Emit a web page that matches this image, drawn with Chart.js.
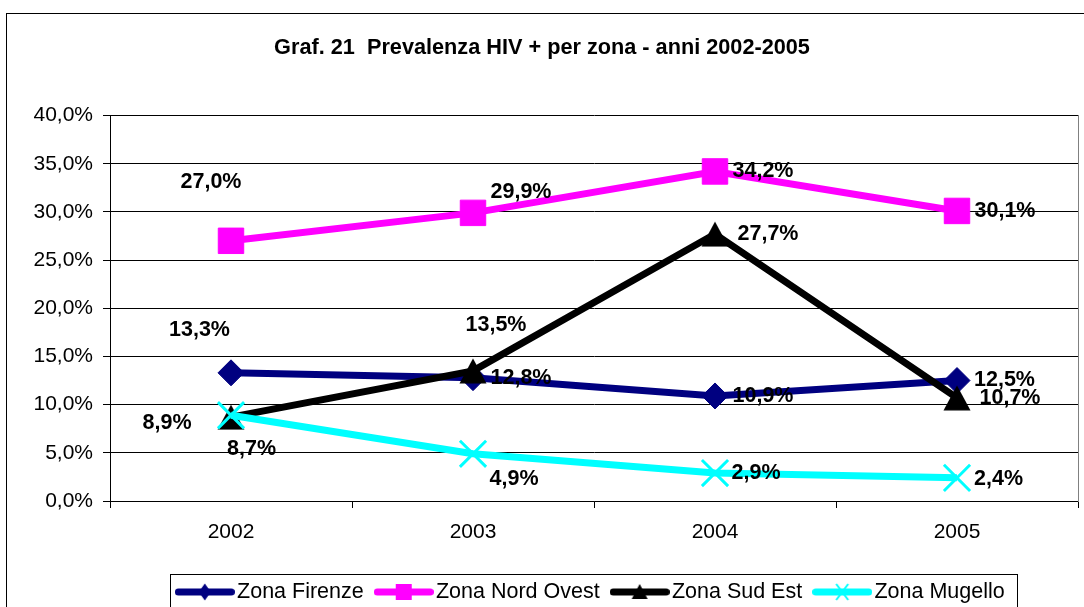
<!DOCTYPE html>
<html><head><meta charset="utf-8">
<script src="https://cdn.jsdelivr.net/npm/chart.js@4.4.1/dist/chart.umd.min.js"></script>
<style>html,body{margin:0;padding:0;background:#fff;overflow:hidden}#wrap{width:1084px;height:607px;position:relative}canvas{display:block}</style>
</head><body><div id="wrap"><canvas id="c" width="1084" height="607"></canvas></div>
<script>
// ---- data ----
const categories = ['2002', '2003', '2004', '2005'];
const seriesNames = ['Zona Firenze', 'Zona Nord Ovest', 'Zona Sud Est', 'Zona Mugello'];
const firenze   = [13.3, 12.8, 10.9, 12.5];
const nordOvest = [27.0, 29.9, 34.2, 30.1];
const sudEst    = [8.7, 13.5, 27.7, 10.7];
const mugello   = [8.9, 4.9, 2.9, 2.4];
const yTicks = [0, 5, 10, 15, 20, 25, 30, 35, 40];
const titleText = 'Graf. 21  Prevalenza HIV + per zona - anni 2002-2005';

// ---- style: label placement (pixel offsets from each point) ----
const labelOffsets = [
  [[-31.5, -43], [48, 0], [48, 0], [47.5, 0]],
  [[-20, -59], [48, -21], [48, 0], [48, 0]],
  [[20.5, 32], [23, -45.5], [53, 0], [53, 0]],
  [[-64, 8], [41, 25], [41, 0], [41.5, 1]]
];
const colors = ['#000080', '#FF00FF', '#000000', '#00FFFF'];
const FONT = '"Liberation Sans", Arial, Helvetica, sans-serif';
Chart.defaults.font.family = FONT;
Chart.defaults.color = '#000';

function fmt(v) { return v.toFixed(1).replace('.', ',') + '%'; }

function triImg(color) {
  const c = document.createElement('canvas'); c.width = 28; c.height = 26;
  const g = c.getContext('2d'); g.fillStyle = color;
  g.beginPath(); g.moveTo(14, 0.5); g.lineTo(27.5, 25.5); g.lineTo(0.5, 25.5); g.closePath(); g.fill();
  return c;
}
function legendImg(color, marker) {
  const c = document.createElement('canvas'); c.width = 60; c.height = 22;
  const g = c.getContext('2d');
  g.strokeStyle = color; g.lineWidth = 7; g.lineCap = 'round';
  g.beginPath(); g.moveTo(3.5, 11); g.lineTo(56.5, 11); g.stroke();
  g.fillStyle = color;
  if (marker === 'diamond') { g.beginPath(); g.moveTo(30, 2.5); g.lineTo(36, 11); g.lineTo(30, 19.5); g.lineTo(24, 11); g.closePath(); g.fill(); }
  else if (marker === 'square') { g.fillRect(22, 3, 16, 16); }
  else if (marker === 'triangle') { g.beginPath(); g.moveTo(30, 3); g.lineTo(38, 18); g.lineTo(22, 18); g.closePath(); g.fill(); }
  else if (marker === 'x') { g.lineWidth = 2; g.lineCap = 'butt'; g.beginPath(); g.moveTo(24, 3); g.lineTo(36, 19); g.moveTo(36, 3); g.lineTo(24, 19); g.stroke(); }
  return c;
}
const legendImgs = [legendImg(colors[0], 'diamond'), legendImg(colors[1], 'square'), legendImg(colors[2], 'triangle'), legendImg(colors[3], 'x')];

const decor = {
  id: 'decor',
  afterLayout(chart) {
    const lg = chart.legend; lg.left += 52; lg.right += 52;
  },
  afterDatasetsDraw(chart) {
    const ctx = chart.ctx;
    ctx.save();
    ctx.font = 'bold 21.5px ' + FONT;
    ctx.fillStyle = '#000';
    ctx.textAlign = 'center';
    ctx.textBaseline = 'middle';
    chart.data.datasets.forEach((ds, d) => {
      const meta = chart.getDatasetMeta(d);
      meta.data.forEach((el, i) => {
        const off = labelOffsets[d][i];
        ctx.fillText(fmt(ds.data[i]), el.x + off[0], el.y + off[1]);
      });
    });
    ctx.restore();
  },
  afterDraw(chart) {
    const ctx = chart.ctx;
    ctx.save();
    ctx.strokeStyle = '#000'; ctx.lineWidth = 1;
    ctx.strokeRect(6.5, 13.5, 1300, 800);
    const hb = chart.legend.legendHitBoxes;
    if (hb && hb.length) {
      const l = Math.round(hb[0].left - 13) + 0.5;
      const last = hb[hb.length - 1];
      const r = Math.round(last.left + last.width + 12) + 0.5;
      ctx.strokeRect(l, 574.5, r - l, 100);
    }
    ctx.restore();
  }
};

const chart = new Chart(document.getElementById('c'), {
  type: 'line',
  data: {
    labels: categories,
    datasets: [
      { label: seriesNames[0], data: firenze, borderColor: colors[0], backgroundColor: colors[0], borderWidth: 7,
        pointStyle: 'rectRot', pointRadius: 13, pointBorderWidth: 1, order: 3 },
      { label: seriesNames[1], data: nordOvest, borderColor: colors[1], backgroundColor: colors[1], borderWidth: 7,
        pointStyle: 'rect', pointRadius: 18, pointBorderWidth: 1, order: 2 },
      { label: seriesNames[2], data: sudEst, borderColor: colors[2], backgroundColor: colors[2], borderWidth: 7,
        pointStyle: triImg(colors[2]), pointRadius: 13, pointBorderWidth: 1, order: 1 },
      { label: seriesNames[3], data: mugello, borderColor: colors[3], backgroundColor: colors[3], borderWidth: 7,
        pointStyle: 'crossRot', pointRadius: 18.5, pointBorderWidth: 3, order: 0 }
    ]
  },
  options: {
    responsive: false,
    animation: false,
    devicePixelRatio: 1,
    layout: { autoPadding: false, padding: { left: 0, right: 0, top: 0, bottom: -5.75 } },
    elements: { line: { tension: 0, fill: false } },
    plugins: {
      tooltip: { enabled: false },
      title: {
        display: true, text: titleText, color: '#000',
        font: { size: 21.7, weight: 'bold' },
        padding: { top: 35, bottom: 54.5 }
      },
      legend: {
        display: true, position: 'bottom',
        labels: {
          usePointStyle: true, pointStyleWidth: 43, padding: 18.5,
          font: { size: 21.5 }, color: '#000',
          generateLabels(chart) {
            const items = Chart.defaults.plugins.legend.labels.generateLabels(chart);
            items.sort((a, b) => a.datasetIndex - b.datasetIndex);
            items.forEach(it => { it.pointStyle = legendImgs[it.datasetIndex]; });
            return items;
          }
        }
      }
    },
    scales: {
      x: {
        type: 'category', offset: true,
        grid: { display: true, offset: true, drawOnChartArea: false, drawTicks: true, tickLength: 7, color: '#000' },
        border: { display: true, color: '#000', width: 1 },
        ticks: { font: { size: 21 }, padding: 12, color: '#000', maxRotation: 0, autoSkip: false },
        afterFit(s) { s.height = 61.75; s.paddingLeft = 0; s.paddingRight = 0; }
      },
      y: {
        type: 'linear', min: 0, max: 40, position: 'left',
        afterBuildTicks(s) { s.ticks = yTicks.map(v => ({ value: v })); },
        grid: { display: true, color: '#000', lineWidth: 1, drawTicks: true, tickLength: 7 },
        border: { display: true, color: '#000', width: 1 },
        ticks: { font: { size: 21 }, padding: 10, color: '#000', callback: v => fmt(v) },
        afterFit(s) { s.width = 110; }
      },
      y2: {
        type: 'linear', position: 'right', display: true,
        grid: { display: false }, ticks: { display: false },
        border: { display: true, color: '#808080', width: 1 },
        afterFit(s) { s.width = 6; s.paddingTop = 0; s.paddingBottom = 0; }
      }
    }
  },
  plugins: [decor]
});
</script>
</body></html>
